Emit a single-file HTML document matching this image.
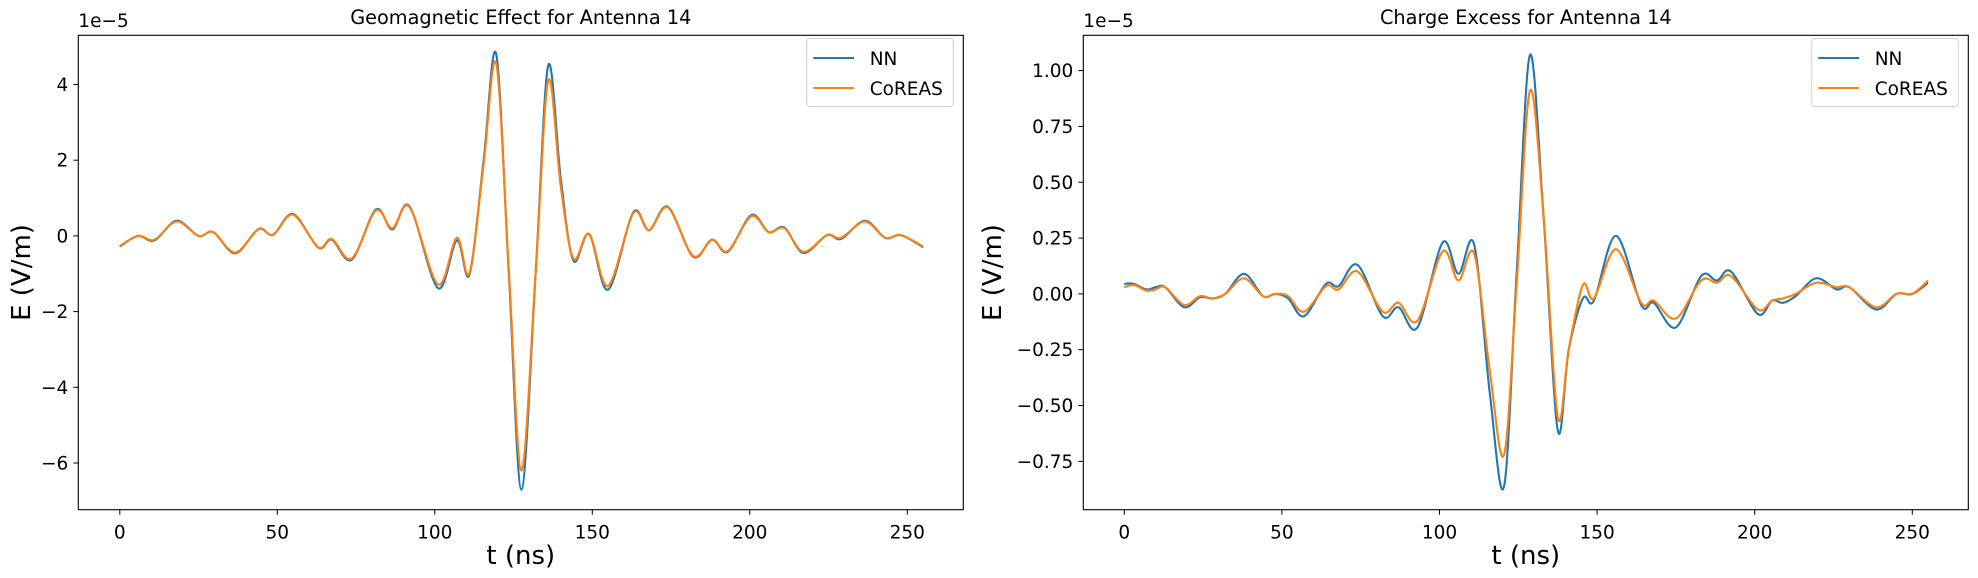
<!DOCTYPE html>
<html><head><meta charset="utf-8"><style>
html,body{margin:0;padding:0;background:#fff;}
svg{display:block;font-family:"DejaVu Sans","Liberation Sans",sans-serif;}
</style></head><body>
<svg id="fig" width="1978" height="578" viewBox="0 0 1978 578" xmlns="http://www.w3.org/2000/svg"></svg>
<script>
// ---- Geomagnetic data (units 1e-5 V/m) ----
const geoT  = [0,5.8,11,18,25,29.7,36.6,44,48.7,55,63,67.3,73.6,81.3,86.5,92,101,107,111,115.5,119.5,123.5,127.5,132,136,140,144,149,155,163,168,174,182,188,193,200.5,206,211,217,224.5,229,236.5,243,248,255];
const geoNN = [-0.28,0.0,-0.12,0.4,0.0,0.1,-0.46,0.18,0.03,0.58,-0.31,-0.1,-0.63,0.7,0.17,0.78,-1.38,-0.12,-1.02,2.0,4.8,-1.0,-6.7,-1.0,4.5,1.5,-0.65,0.05,-1.42,0.62,0.15,0.77,-0.55,-0.1,-0.42,0.55,0.1,0.22,-0.45,0.02,-0.08,0.4,-0.05,0.02,-0.3];
const geoCo = [-0.27,0.0,-0.1,0.38,0.0,0.1,-0.44,0.17,0.03,0.56,-0.3,-0.08,-0.6,0.67,0.2,0.76,-1.28,-0.05,-0.98,1.9,4.55,-0.9,-6.2,-1.0,4.1,1.3,-0.6,0.05,-1.32,0.6,0.15,0.75,-0.53,-0.1,-0.4,0.52,0.1,0.2,-0.42,0.02,-0.05,0.38,-0.05,0.02,-0.28];
// ---- Charge excess data (units 1e-5 V/m) ----
const ceT  = [0,3,7,10,13,19,24,28,32,38,44,48,52,57,64,68,74,82,87,93,101,106,111,116,120.5,124.5,128.7,133,137.5,141,145.5,149,156,164,168,175,183,188,192.5,201,205.5,209,213,219.5,226,230,238.5,245,250,255];
const ceNN = [0.045,0.045,0.02,0.03,0.03,-0.06,-0.015,-0.02,0.0,0.09,-0.01,0.0,-0.02,-0.1,0.045,0.035,0.13,-0.1,-0.06,-0.15,0.23,0.09,0.22,-0.45,-0.86,0.1,1.07,0.35,-0.61,-0.25,-0.02,-0.03,0.26,-0.05,-0.04,-0.15,0.08,0.06,0.1,-0.09,-0.03,-0.04,-0.01,0.07,0.02,0.03,-0.07,0.0,0.0,0.05];
const ceCo = [0.03,0.04,0.015,0.02,0.03,-0.05,-0.01,-0.02,0.0,0.07,-0.01,0.0,-0.01,-0.08,0.035,0.02,0.1,-0.08,-0.04,-0.12,0.19,0.06,0.18,-0.35,-0.72,0.05,0.91,0.35,-0.55,-0.25,0.04,-0.02,0.2,-0.04,-0.03,-0.11,0.06,0.05,0.08,-0.07,-0.03,-0.02,0.0,0.05,0.03,0.03,-0.06,0.0,0.0,0.06];
const xTicks = [0,50,100,150,200,250];
const geoYTicks = [-6,-4,-2,0,2,4];
const ceYTicks = [-0.75,-0.5,-0.25,0,0.25,0.5,0.75,1.0];

const NS='http://www.w3.org/2000/svg';
const svg=document.getElementById('fig');
function mk(tag,attrs,parent){const e=document.createElementNS(NS,tag);for(const k in attrs)e.setAttribute(k,attrs[k]);(parent||svg).appendChild(e);return e;}
function fmt(v,d){let s=v.toFixed(d);if(v<0)s='\u2212'+s.slice(1);return s;}
function pathD(xs,ys){
  let d='M'+xs[0].toFixed(2)+','+ys[0].toFixed(2);
  for(let i=0;i<xs.length-1;i++){
    const x0=xs[Math.max(i-1,0)],y0=ys[Math.max(i-1,0)],x1=xs[i],y1=ys[i],x2=xs[i+1],y2=ys[i+1],x3=xs[Math.min(i+2,xs.length-1)],y3=ys[Math.min(i+2,xs.length-1)];
    const c1x=x1+(x2-x0)/6,c1y=y1+(y2-y0)/6,c2x=x2-(x3-x1)/6,c2y=y2-(y3-y1)/6;
    d+=' C'+c1x.toFixed(2)+','+c1y.toFixed(2)+' '+c2x.toFixed(2)+','+c2y.toFixed(2)+' '+x2.toFixed(2)+','+y2.toFixed(2);
  }
  return d;
}
function panel(o){
  const g=mk('g',{});
  
  
  const sx=t=>o.t0+t*o.kx, sy=v=>o.y0-v*o.ky;
  const s1=mk('path',{d:pathD(o.t.map(sx),o.nn.map(sy)),fill:'none',stroke:'#1f77b4','stroke-width':2.1,'stroke-linejoin':'round'},g);
  
  
  const s2=mk('path',{d:pathD(o.t.map(sx),o.co.map(sy)),fill:'none',stroke:'#ff7f0e','stroke-width':2.1,'stroke-linejoin':'round'},g);
  
  
  const fr=mk('rect',{x:o.L,y:o.T,width:o.R-o.L,height:o.B-o.T,fill:'none',stroke:'#000','stroke-width':1.1},g);
  
  
  xTicks.forEach(t=>{const x=sx(t);
    mk('line',{x1:x,x2:x,y1:o.B,y2:o.B+5,stroke:'#000','stroke-width':1},g);
    const tx=mk('text',{x:x,y:o.B+29,'font-size':18.5,'text-anchor':'middle',fill:'#000'},g);tx.textContent=t;
    
    });
  o.yt.forEach(v=>{const y=sy(v);
    mk('line',{x1:o.L-5,x2:o.L,y1:y,y2:y,stroke:'#000','stroke-width':1},g);
    const tx=mk('text',{x:o.L-10,y:y+6.5,'font-size':18.5,'text-anchor':'end',fill:'#000'},g);tx.textContent=fmt(v,o.dec);
    
    });
  const off=mk('text',{x:o.L,y:27,'font-size':18.5,fill:'#000'},g);off.textContent='1e\u22125';
  
  
  const ti=mk('text',{x:(o.L+o.R)/2,y:24,'font-size':19.3,'text-anchor':'middle',fill:'#000'},g);ti.textContent=o.title;
  
  
  const xl=mk('text',{x:(o.L+o.R)/2,y:564,'font-size':26,'text-anchor':'middle',fill:'#000'},g);xl.textContent='t (ns)';
  
  
  const cy=(o.T+o.B)/2;
  const yl=mk('text',{x:o.ylx,y:cy,'font-size':26,'text-anchor':'middle',fill:'#000',transform:'rotate(-90 '+o.ylx+' '+cy+')'},g);yl.textContent='E (V/m)';
  
  
  const lg=mk('g',{},g);
  
  
  mk('rect',{x:o.lgx,y:38.5,width:146.6,height:68,rx:3,fill:'#fff','fill-opacity':0.8,stroke:'#d0d0d0','stroke-width':1},lg);
  [['NN','#1f77b4',58],['CoREAS','#ff7f0e',88]].forEach(([lab,c,y])=>{
    const ln=mk('line',{x1:o.lgx+6.6,x2:o.lgx+47.3,y1:y,y2:y,stroke:c,'stroke-width':2.1},lg);
    
    
    const t=mk('text',{x:o.lgx+63,y:y+7,'font-size':18.5,fill:'#000'},lg);t.textContent=lab;
    
    
  });
}
panel({name:'geomagnetic-chart',title:'Geomagnetic Effect for Antenna 14',L:78.3,R:963.3,T:35.3,B:509.7,t0:119.8,kx:3.150,y0:235.9,ky:37.85,
  t:geoT,nn:geoNN,co:geoCo,yt:geoYTicks,dec:0,ylx:30,lgx:806.7});
panel({name:'charge-excess-chart',title:'Charge Excess for Antenna 14',L:1083.3,R:1968.3,T:35.3,B:509.7,t0:1124.3,kx:3.152,y0:293.9,ky:223.3,
  t:ceT,nn:ceNN,co:ceCo,yt:ceYTicks,dec:2,ylx:1001,lgx:1811.7});
</script>
</body></html>
